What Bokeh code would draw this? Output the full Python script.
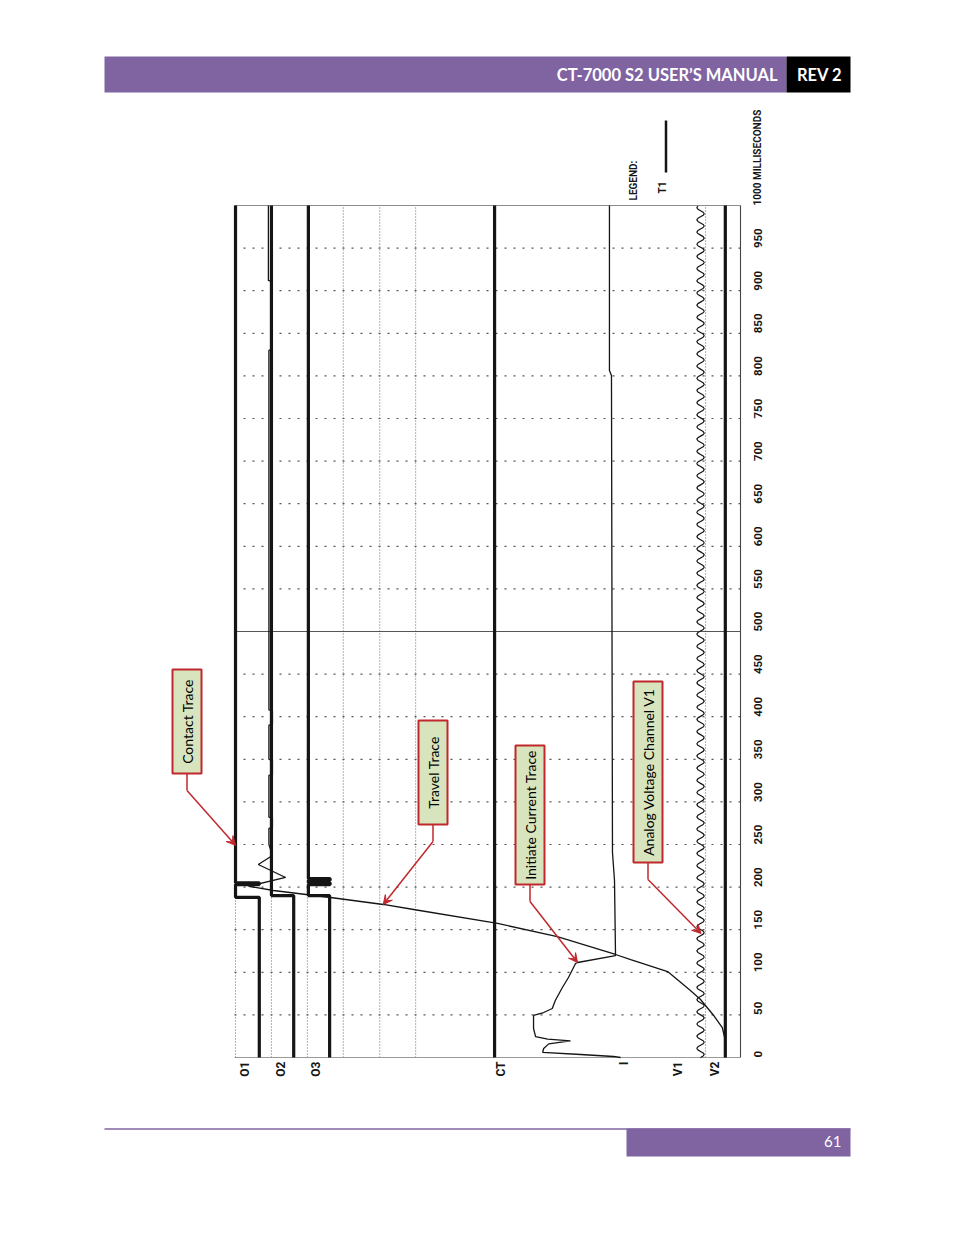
import numpy as np
from bokeh.plotting import figure
from bokeh.models import Range1d, Arrow, VeeHead
from bokeh.embed import file_html
from bokeh.resources import INLINE
from bokeh.core.properties import value

# ------------------------------------------------------------------
# DATA (time in milliseconds, trace deflection in chart units 0..100
# across the chart width)
# ------------------------------------------------------------------
TICK_MS = [0, 50, 100, 150, 200, 250, 300, 350, 400, 450, 500,
           550, 600, 650, 700, 750, 800, 850, 900, 950, 1000]
TICK_LABELS = ["0", "50", "100", "150", "200", "250", "300", "350", "400",
               "450", "500", "550", "600", "650", "700", "750", "800",
               "850", "900", "950", "1000 MILLISECONDS"]

CHANNELS = ["O1", "O2", "O3", "CT", "I", "V1", "V2"]
CHANNEL_LABEL_AMP = [2.0, 9.1, 16.2, 52.6, 76.9, 87.7, 94.9]
DOTTED_BASE_AMP = [0.2, 7.3, 14.4, 21.5, 28.7, 35.8, 93.1]

# contact traces
O1_MS = [0, 188, 188, 203, 203, 205, 205, 1000]
O1_AMP = [4.9, 4.9, 0.2, 0.2, 4.9, 4.9, 0.2, 0.2]
O2_MS = [0, 190, 190, 1000]
O2_AMP = [11.7, 11.7, 7.3, 7.3]
O3_MS = [0, 190, 190, 203, 203, 205, 205, 208, 208, 210, 210, 1000]
O3_AMP = [18.8, 18.8, 14.6, 14.6, 18.9, 18.9, 14.6, 14.6, 18.9, 18.9, 14.6, 14.6]

# CT and V2 (flat thick traces)
CT_MS = [0, 1000]
CT_AMP = [51.4, 51.4]
V2_MS = [0, 1000]
V2_AMP = [97.0, 97.0]

# travel trace
TRAVEL_MS = [0, 20.0, 35.2, 49.3, 68.1, 78.6, 100.9, 115.0, 120.9, 142.0,
             157.3, 173.7, 179.6, 187.8, 196.0, 201.0, 211.3, 226.5, 237.1,
             250, 269, 270, 281, 282, 331, 332, 349, 350, 390, 391, 407, 408,
             830, 831, 911, 912, 1000]
TRAVEL_AMP = [97.0, 97.0, 96.4, 94.7, 92.1, 90.1, 85.6, 78.3, 75.3, 63.8,
              52.0, 35.4, 29.4, 19.0, 7.7, 2.8, 10.1, 4.7, 7.5,
              6.8, 6.8, 7.5, 7.5, 6.8, 6.8, 7.5, 7.5, 6.8, 6.8, 7.5, 7.5, 6.8,
              6.8, 7.3, 7.3, 6.7, 6.7]

# initiate current trace
I_MS = [0, 1.2, 3.5, 5.9, 10.6, 16.0, 19.5, 21.5, 24.6, 34.0, 43.4, 49.3,
        52.8, 57.5, 66.9, 82.2, 93.9, 110.3, 111.5, 119.7, 207.7, 240.6,
        800.5, 806.3, 1000]
I_AMP = [76.3, 74.9, 68.4, 60.9, 61.1, 62.1, 66.4, 61.9, 59.5, 59.1, 59.1,
         59.1, 61.1, 62.8, 63.4, 64.8, 66.0, 67.4, 67.8, 75.3, 75.1, 74.7,
         74.5, 74.1, 74.1]

V1_CENTER_AMP = 92.1
V1_CYCLE_AMP = [0.0, 0.52, 0.73, 0.52, 0.0, -0.52, -0.73, -0.52]
V1_CYCLE_MS = 14.3

# callouts: text, target time (ms)
CALLOUT_TEXT = ["Contact Trace", "Travel Trace", "Initiate Current Trace",
                "Analog Voltage Channel V1"]
CALLOUT_TARGET_MS = [249, 179.6, 111.5, 145.5]

# ------------------------------------------------------------------
# layout (page pixels)
# ------------------------------------------------------------------
FIG_W, FIG_H = 938, 1219
CH_X0, CH_X1 = 234.0, 740.0      # chart left / right  (amp 0 .. 100)
CH_Y0, CH_Y1 = 1057.0, 205.0     # chart 0 ms / 1000 ms
AMP_PX = (CH_X1 - CH_X0) / 100.0
MS_PX = (CH_Y0 - CH_Y1) / 1000.0


def amp_of(x):
    return (x - CH_X0) / AMP_PX


def ms_of(y):
    return (CH_Y0 - y) / MS_PX


def px_x(a):
    return CH_X0 + a * AMP_PX


def px_y(t):
    return CH_Y0 - t * MS_PX


PURPLE = "#8064a2"
RED = "#c0282d"
BOX_FILL = "#d7e4bd"
INK = "#151515"

p = figure(width=FIG_W, height=FIG_H,
           x_range=Range1d(0, FIG_W), y_range=Range1d(FIG_H, 0),
           output_backend="svg", toolbar_location=None,
           x_axis_location=None, y_axis_location=None,
           min_border=0, outline_line_color=None)
p.grid.visible = False
p.background_fill_color = "white"
p.border_fill_color = "white"
p.extra_x_ranges = {"amp": Range1d(amp_of(0), amp_of(FIG_W))}
p.extra_y_ranges = {"ms": Range1d(ms_of(FIG_H), ms_of(0))}
C = dict(x_range_name="amp", y_range_name="ms")

# ---------------- header / footer ----------------
p.quad(left=[104], right=[786], top=[56], bottom=[92], fill_color=PURPLE, line_color=None)
p.quad(left=[786], right=[850], top=[56], bottom=[92], fill_color="black", line_color=None)
p.text(x=[777], y=[74.5], text=["CT-7000 S2 USER\u2019S MANUAL"], text_align="right",
       text_baseline="middle", text_color="white", text_font=value("Lato"),
       text_font_style="bold", text_font_size="16.5px")
p.text(x=[819], y=[74.5], text=["REV 2"], text_align="center",
       text_baseline="middle", text_color="white", text_font=value("Lato"),
       text_font_style="bold", text_font_size="16.5px")
p.segment(x0=[104], y0=[1128.5], x1=[850], y1=[1128.5], line_color=PURPLE, line_width=1.5)
p.quad(left=[626], right=[850], top=[1128], bottom=[1156], fill_color=PURPLE, line_color=None)
p.text(x=[841], y=[1141], text=["61"], text_align="right", text_baseline="middle",
       text_color="white", text_font=value("Lato"), text_font_size="15px")

# ---------------- chart grid ----------------
grid_ms = [t for t in TICK_MS if t not in (0, 500, 1000)]
p.segment(x0=[0] * len(grid_ms), y0=grid_ms, x1=[100] * len(grid_ms), y1=grid_ms,
          line_color="#555555", line_width=1.2, line_dash="2 7", **C)
n = len(DOTTED_BASE_AMP)
p.segment(x0=DOTTED_BASE_AMP, y0=[0] * n, x1=DOTTED_BASE_AMP, y1=[1000] * n,
          line_color="#666666", line_width=1, line_dash="1 2", **C)
# frame and 500 ms line
p.segment(x0=[0, 0, 100, 0], y0=[1000, 0, 0, 500], x1=[100, 100, 100, 100],
          y1=[1000, 0, 1000, 500],
          line_color=["#8c8c8c", "#9a9a9a", "#444444", "#555555"], line_width=1.1, **C)

# ---------------- traces ----------------
for ms, amp in ((O1_MS, O1_AMP), (O2_MS, O2_AMP), (O3_MS, O3_AMP),
                (CT_MS, CT_AMP), (V2_MS, V2_AMP)):
    p.line(x=amp, y=ms, line_color=INK, line_width=3.2, **C)

v1_ms = np.arange(0, 1000 + 1e-9, V1_CYCLE_MS / len(V1_CYCLE_AMP))
v1_amp = V1_CENTER_AMP + np.resize(np.array(V1_CYCLE_AMP), len(v1_ms))
p.line(x=v1_amp, y=v1_ms, line_color=INK, line_width=1.2, **C)
p.line(x=TRAVEL_AMP, y=TRAVEL_MS, line_color=INK, line_width=1.3, **C)
p.line(x=I_AMP, y=I_MS, line_color=INK, line_width=1.3, **C)

# ---------------- chart texts ----------------
TFONT = value("Roboto")
tick_sizes = ["11.5px"] * (len(TICK_MS) - 1) + ["10px"]
p.text(x=[amp_of(757)] * len(TICK_MS), y=TICK_MS, text=TICK_LABELS, angle=np.pi / 2,
       text_align="left", text_baseline="middle", text_color=INK, text_font=TFONT,
       text_font_size=tick_sizes, text_font_style="bold", **C)
p.text(x=CHANNEL_LABEL_AMP, y=[ms_of(1061)] * len(CHANNELS), text=CHANNELS,
       angle=np.pi / 2, text_align="right", text_baseline="middle", text_color=INK,
       text_font=TFONT, text_font_size="12px", text_font_style="bold", **C)
p.text(x=[633], y=[200], text=["LEGEND:"], angle=np.pi / 2, text_align="left",
       text_baseline="middle", text_color=INK, text_font=TFONT, text_font_size="10px",
       text_font_style="bold")
p.text(x=[662], y=[193], text=["T1"], angle=np.pi / 2, text_align="left",
       text_baseline="middle", text_color=INK, text_font=TFONT, text_font_size="10px",
       text_font_style="bold")
p.line(x=[665.5, 665.5], y=[120, 172], line_color=INK, line_width=2.5)

# ---------------- callouts ----------------
boxes = [(172, 669, 201, 773), (418, 720, 447, 824), (515, 745, 544, 884), (633, 681, 662, 862)]
targets_amp = [float(np.interp(CALLOUT_TARGET_MS[0], O1_MS, O1_AMP)),
               float(np.interp(CALLOUT_TARGET_MS[1], TRAVEL_MS, TRAVEL_AMP)),
               float(np.interp(CALLOUT_TARGET_MS[2], I_MS, I_AMP)),
               float(np.interp(CALLOUT_TARGET_MS[3], v1_ms, v1_amp)) - 0.5]
for (l, t, r, b), txt, ta, tm in zip(boxes, CALLOUT_TEXT, targets_amp, CALLOUT_TARGET_MS):
    cx = (l + r) / 2.0
    elbow = b + 17
    p.line(x=[cx, cx], y=[b, elbow], line_color=RED, line_width=1.5)
    p.add_layout(Arrow(x_start=cx, y_start=elbow, x_end=px_x(ta), y_end=px_y(tm),
                       line_color=RED, line_width=1.5,
                       end=VeeHead(size=9, fill_color=RED, line_color=RED)))
    p.quad(left=[l], right=[r], top=[t], bottom=[b], fill_color=BOX_FILL,
           line_color=RED, line_width=2)
    p.text(x=[cx], y=[(t + b) / 2.0], text=[txt], angle=np.pi / 2, text_align="center",
           text_baseline="middle", text_color="black", text_font=value("Lato"),
           text_font_size="14px")

open("out.html", "w").write(file_html(p, INLINE))
